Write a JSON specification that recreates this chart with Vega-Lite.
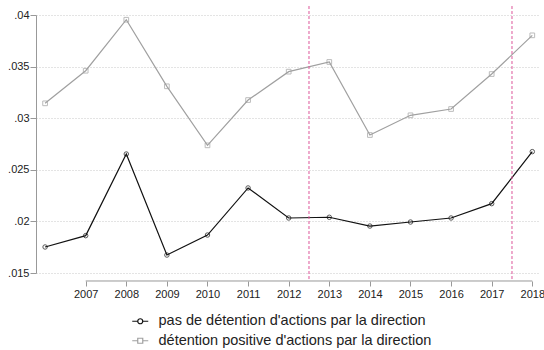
{
  "$schema": "https://vega.github.io/schema/vega-lite/v6.json",
  "autosize": {"type": "none"},
  "padding": {"left": 36, "top": 15, "right": 4, "bottom": 77},
  "width": 504,
  "height": 258,
  "config": {"view": {"stroke": null}, "font": "Liberation Sans"},
  "data": {"values": [
    {"year": 2006, "value": 0.01752, "series": "pas de détention d'actions par la direction"},
    {"year": 2007, "value": 0.01862, "series": "pas de détention d'actions par la direction"},
    {"year": 2008, "value": 0.02653, "series": "pas de détention d'actions par la direction"},
    {"year": 2009, "value": 0.01674, "series": "pas de détention d'actions par la direction"},
    {"year": 2010, "value": 0.01868, "series": "pas de détention d'actions par la direction"},
    {"year": 2011, "value": 0.02324, "series": "pas de détention d'actions par la direction"},
    {"year": 2012, "value": 0.02033, "series": "pas de détention d'actions par la direction"},
    {"year": 2013, "value": 0.02040, "series": "pas de détention d'actions par la direction"},
    {"year": 2014, "value": 0.01955, "series": "pas de détention d'actions par la direction"},
    {"year": 2015, "value": 0.01994, "series": "pas de détention d'actions par la direction"},
    {"year": 2016, "value": 0.02033, "series": "pas de détention d'actions par la direction"},
    {"year": 2017, "value": 0.02172, "series": "pas de détention d'actions par la direction"},
    {"year": 2018, "value": 0.02676, "series": "pas de détention d'actions par la direction"},
    {"year": 2006, "value": 0.03144, "series": "détention positive d'actions par la direction"},
    {"year": 2007, "value": 0.03460, "series": "détention positive d'actions par la direction"},
    {"year": 2008, "value": 0.03954, "series": "détention positive d'actions par la direction"},
    {"year": 2009, "value": 0.03309, "series": "détention positive d'actions par la direction"},
    {"year": 2010, "value": 0.02737, "series": "détention positive d'actions par la direction"},
    {"year": 2011, "value": 0.03176, "series": "détention positive d'actions par la direction"},
    {"year": 2012, "value": 0.03451, "series": "détention positive d'actions par la direction"},
    {"year": 2013, "value": 0.03545, "series": "détention positive d'actions par la direction"},
    {"year": 2014, "value": 0.02837, "series": "détention positive d'actions par la direction"},
    {"year": 2015, "value": 0.03028, "series": "détention positive d'actions par la direction"},
    {"year": 2016, "value": 0.03089, "series": "détention positive d'actions par la direction"},
    {"year": 2017, "value": 0.03428, "series": "détention positive d'actions par la direction"},
    {"year": 2018, "value": 0.03803, "series": "détention positive d'actions par la direction"}
  ]},
  "layer": [
    {
      "mark": {"type": "line", "strokeWidth": 1.2},
      "encoding": {
        "x": {"field": "year", "type": "quantitative",
          "scale": {"domain": [2005.776, 2018.19], "nice": false, "zero": false},
          "axis": {"values": [2007, 2008, 2009, 2010, 2011, 2012, 2013, 2014, 2015, 2016, 2017, 2018],
            "format": "d", "domain": false, "grid": false, "offset": 8, "tickSize": 5, "tickColor": "#999",
            "labelFontSize": 11, "labelColor": "#222", "labelPadding": 2, "title": null}},
        "y": {"field": "value", "type": "quantitative",
          "scale": {"domain": [0.015, 0.04], "nice": false, "zero": false},
          "axis": {"values": [0.015, 0.02, 0.025, 0.03, 0.035, 0.04],
            "labelExpr": "replace(format(datum.value, '.3~f'), '0.', '.')",
            "domainColor": "#999", "tickColor": "#999", "tickSize": 6, "grid": true,
            "gridDash": [1, 2], "gridColor": "#c8c8c8", "labelFontSize": 11, "labelColor": "#222",
            "labelPadding": 1, "title": null}},
        "color": {"field": "series", "type": "nominal",
          "scale": {"domain": ["pas de détention d'actions par la direction", "détention positive d'actions par la direction"],
                    "range": ["#111111", "#a0a0a0"]},
          "legend": {"title": null, "orient": "none", "legendX": 97, "legendY": 299, "padding": 0,
            "labelFontSize": 14.5, "labelColor": "#222", "labelOffset": 11, "rowPadding": 4.5, "labelLimit": 0,
            "symbolSize": 100,
            "encode": {"symbols": {"update": {
              "shape": {"signal": "datum.value == \"détention positive d'actions par la direction\" ? 'M-1.6,0L-0.5,0M0.5,0L1.6,0M-0.5,-0.5L0.5,-0.5L0.5,0.5L-0.5,0.5Z' : 'M-1.6,0L-0.5,0M0.5,0L1.6,0M-0.5,0A0.5,0.5 0 1,0 0.5,0A0.5,0.5 0 1,0 -0.5,0'"},
              "size": {"value": 100},
              "strokeWidth": {"value": 1.2},
              "fill": {"value": "transparent"}}}}}}
      }
    },
    {
      "transform": [{"filter": "datum.series == \"pas de détention d'actions par la direction\""}],
      "mark": {"type": "point", "shape": "circle", "filled": false, "size": 20, "strokeWidth": 1},
      "encoding": {
        "x": {"field": "year", "type": "quantitative"},
        "y": {"field": "value", "type": "quantitative"},
        "color": {"field": "series", "type": "nominal"}
      }
    },
    {
      "transform": [{"filter": "datum.series == \"détention positive d'actions par la direction\""}],
      "mark": {"type": "point", "shape": "square", "filled": false, "size": 22, "strokeWidth": 1},
      "encoding": {
        "x": {"field": "year", "type": "quantitative"},
        "y": {"field": "value", "type": "quantitative"},
        "color": {"field": "series", "type": "nominal"}
      }
    },
    {
      "data": {"values": [{"cut": 2012.5}, {"cut": 2017.5}]},
      "mark": {"type": "rule", "color": "#dd5599", "strokeDash": [3, 2], "strokeWidth": 1, "clip": false},
      "encoding": {
        "x": {"field": "cut", "type": "quantitative"},
        "y": {"datum": 0.04087},
        "y2": {"datum": 0.014225}
      }
    },
    {
      "data": {"values": [{"from": 2007, "to": 2018}]},
      "mark": {"type": "rule", "color": "#999", "strokeWidth": 1, "clip": false},
      "encoding": {
        "x": {"field": "from", "type": "quantitative"},
        "x2": {"field": "to"},
        "y": {"datum": 0.014225}
      }
    }
  ]
}
